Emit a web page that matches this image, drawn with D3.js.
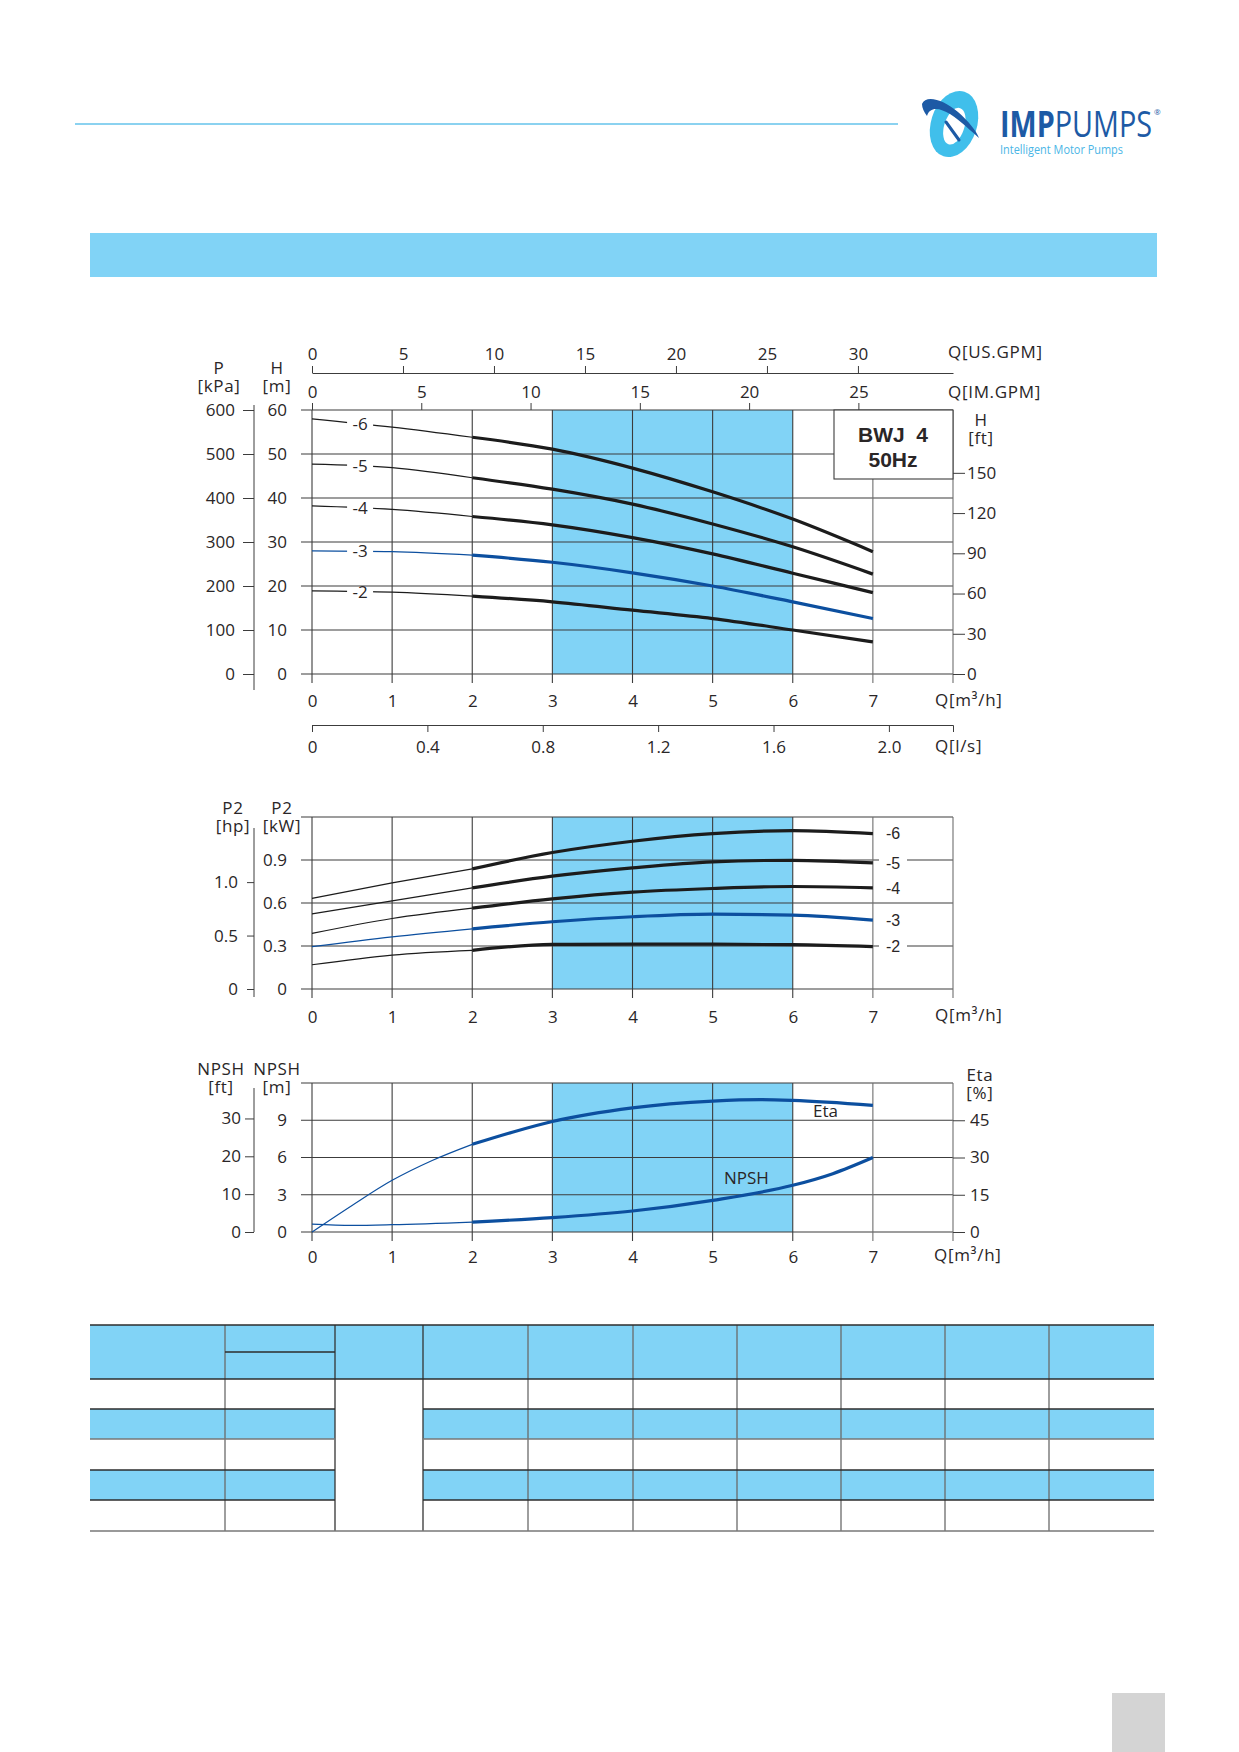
<!DOCTYPE html>
<html>
<head>
<meta charset="utf-8">
<script src="https://cdn.jsdelivr.net/npm/d3@7"></script>
<style>
	body { margin: 0; background: #fff; }
	svg { display: block; font-family: "Open Sans", sans-serif; }
</style>
</head>
<body>
<svg id="page" width="1239" height="1752"></svg>
<script>

// flow points (m3/h) the curves were read at
var flowQ = [0, 1, 2, 3, 4, 5, 6, 7];
var stageNames = ["-6", "-5", "-4", "-3", "-2"];

// head H [m] per stage
var head6 = [58.0, 56.1, 53.8, 51.1, 46.8, 41.4, 35.2, 27.8];
var head5 = [47.7, 46.9, 44.6, 42.0, 38.6, 34.1, 28.9, 22.7];
var head4 = [38.2, 37.4, 35.8, 33.9, 31.0, 27.3, 22.9, 18.5];
var head3 = [28.0, 27.8, 27.0, 25.4, 23.0, 20.0, 16.4, 12.6];
var head2 = [18.9, 18.6, 17.7, 16.4, 14.5, 12.6, 10.0, 7.3];

// shaft power P2 [kW] per stage
var power6 = [0.632, 0.740, 0.838, 0.952, 1.031, 1.084, 1.105, 1.084];
var power5 = [0.524, 0.615, 0.706, 0.787, 0.845, 0.887, 0.898, 0.880];
var power4 = [0.388, 0.492, 0.564, 0.629, 0.676, 0.701, 0.715, 0.706];
var power3 = [0.295, 0.364, 0.420, 0.469, 0.504, 0.522, 0.515, 0.480];
var power2 = [0.169, 0.237, 0.270, 0.311, 0.313, 0.313, 0.309, 0.295];

// NPSH [m] and efficiency [%]
var npshQ = [0, 0.5, 1, 2, 3, 4, 5, 6, 6.5, 7];
var npshM = [0.64, 0.54, 0.59, 0.80, 1.16, 1.69, 2.55, 3.76, 4.70, 6.00];
var etaQ = [0, 0.5, 1, 1.5, 2, 2.5, 3, 4, 5, 5.6, 6, 7];
var etaPct = [0, 10.7, 20.8, 28.8, 35.3, 40.2, 44.5, 50.0, 52.7, 53.3, 53.0, 51.0];

// tick labels
var qTicks = [0, 1, 2, 3, 4, 5, 6, 7];
var usGpmTicks = [0, 5, 10, 15, 20, 25, 30];
var imGpmTicks = [0, 5, 10, 15, 20, 25];
var lsTicks = [0, 0.4, 0.8, 1.2, 1.6, 2.0];
var headTicks = [0, 10, 20, 30, 40, 50, 60];
var kpaTicks = [0, 100, 200, 300, 400, 500, 600];
var ftTicks = [0, 30, 60, 90, 120, 150];
var kwTicks = [0, 0.3, 0.6, 0.9];
var hpTicks = [0, 0.5, 1.0];
var npshTicks = [0, 3, 6, 9];
var npshFtTicks = [0, 10, 20, 30];
var etaTicks = [0, 15, 30, 45];

var headCurves = [head6, head5, head4, head3, head2];
var powerCurves = [power6, power5, power4, power3, power2];

var ink = "#2a2627", gridInk = "#3c3c3c", shade = "#81d3f6",
	black = "#1c1c1c", blue = "#0c4f9f", fontSize = 17;
function stageColor(name) { return name === "-3" ? blue : black; }

var svg = d3.select("#page");
var x = d3.scaleLinear().domain([0, 8]).range([312, 953]);

// ---------- page header ----------
svg.append("line")
	.attr("x1", 75).attr("x2", 898).attr("y1", 124).attr("y2", 124)
	.attr("stroke", "#8bd2f0").attr("stroke-width", 2);
svg.append("rect")
	.attr("x", 90).attr("y", 233).attr("width", 1067).attr("height", 44)
	.attr("fill", shade);

var logo = svg.append("g").attr("transform", "translate(954,124)");
// light ring
logo.append("ellipse").attr("rx", 23).attr("ry", 34)
	.attr("transform", "rotate(18)").attr("fill", "#40bfeb");
logo.append("ellipse").attr("rx", 10).attr("ry", 19).attr("cx", 1).attr("cy", 2)
	.attr("transform", "rotate(18)").attr("fill", "#fff");
// dark orbit crescent on the upper left
logo.append("path")
	.attr("d", "M-32,-20 C-28,-30 -10,-24 4,-12 C14,-3 22,6 25,14 C18,8 8,-2 -4,-10 C-14,-16 -24,-18 -27,-8 C-30,-12 -32,-16 -32,-20 Z")
	.attr("fill", "#1d5aa5");
logo.append("path")
	.attr("d", "M-8,-2 L5,16")
	.attr("stroke", "#1d5aa5").attr("stroke-width", 3).attr("stroke-linecap", "round");
var brand = logo.append("text").attr("x", 46).attr("y", 13)
	.attr("font-size", 36).attr("fill", "#1d5aa5");
brand.append("tspan").attr("font-weight", 700).text("IMP");
brand.append("tspan").text("PUMPS");
brand.attr("textLength", 152).attr("lengthAdjust", "spacingAndGlyphs");
logo.append("text").attr("x", 200).attr("y", -9)
	.attr("font-size", 8).attr("fill", "#1d5aa5").text("®");
logo.append("text").attr("x", 46).attr("y", 30)
	.attr("font-size", 12.5).attr("fill", "#4bb6e6")
	.attr("textLength", 123).attr("lengthAdjust", "spacingAndGlyphs")
	.text("Intelligent Motor Pumps");

// ---------- helpers ----------
function styleAxis(g) {
	g.attr("font-family", null).attr("font-size", fontSize);
	g.selectAll("text").attr("fill", ink);
	g.selectAll("line,path").attr("stroke", gridInk);
}

function panel(top, bottom, y, gridValues) {
	var g = svg.append("g");
	g.append("rect")
		.attr("x", x(3)).attr("y", top)
		.attr("width", x(6) - x(3)).attr("height", bottom - top)
		.attr("fill", shade);
	g.selectAll("line.h").data(gridValues).enter()
		.append("line").attr("class", "h")
		.attr("x1", 301).attr("x2", x(8))
		.attr("y1", d => y(d)).attr("y2", d => y(d))
		.attr("stroke", gridInk).attr("stroke-width", 1.1);
	g.selectAll("line.v").data(d3.range(0, 9)).enter()
		.append("line").attr("class", "v")
		.attr("x1", d => x(d)).attr("x2", d => x(d))
		.attr("y1", top).attr("y2", bottom + 9)
		.attr("stroke", d => d >= 7 ? "#6e6e6e" : gridInk).attr("stroke-width", 1.1);
	return g;
}

function pairs(qs, vs, from, to) {
	return qs.map((q, i) => [q, vs[i]]).filter(p => p[0] >= from && p[0] <= to);
}

function drawCurve(g, y, qs, vs, color) {
	var line = d3.line().x(p => x(p[0])).y(p => y(p[1])).curve(d3.curveMonotoneX);
	g.append("path").attr("d", line(pairs(qs, vs, 0, 2)))
		.attr("fill", "none").attr("stroke", color).attr("stroke-width", 1.2);
	g.append("path").attr("d", line(pairs(qs, vs, 2, 7)))
		.attr("fill", "none").attr("stroke", color).attr("stroke-width", 3.2);
}

function leftLabels(y, ticks, fmt) {
	var g = svg.append("g").attr("transform", "translate(301,0)")
		.call(d3.axisLeft(y).tickValues(ticks).tickSize(0).tickPadding(14).tickFormat(fmt));
	g.select(".domain").remove();
	styleAxis(g);
}

function outerAxis(y, ticks, fmt, y1, y2, size, pad) {
	var g = svg.append("g").attr("transform", "translate(254,0)")
		.call(d3.axisLeft(y).tickValues(ticks).tickSizeInner(size).tickSizeOuter(0)
			.tickPadding(pad).tickFormat(fmt));
	g.select(".domain").remove();
	g.append("line").attr("x1", 0).attr("x2", 0).attr("y1", y1).attr("y2", y2);
	styleAxis(g);
}

function bottomLabels(bottom, pad) {
	var g = svg.append("g").attr("transform", "translate(0," + (bottom + 9) + ")")
		.call(d3.axisBottom(x).tickValues(qTicks).tickSize(0).tickPadding(pad));
	g.select(".domain").remove();
	styleAxis(g);
}

function title(lines, cx, anchor) {
	lines.forEach(function(l) {
		svg.append("text").attr("x", cx).attr("y", l[1])
			.attr("text-anchor", anchor || "middle")
			.attr("letter-spacing", 0.7)
			.attr("font-size", fontSize).attr("fill", ink).text(l[0]);
	});
}

function fmtPlain(d) { return d === 0 ? "0" : d3.format(".1f")(d); }

// ---------- H chart ----------
var hTop = 410, hBottom = 674;
var yH = d3.scaleLinear().domain([0, 60]).range([hBottom, hTop]);
var yKpa = d3.scaleLinear().domain([0, 600]).range([hBottom, hTop]);
var yFt = d3.scaleLinear().domain([0, 60 * 3.28084]).range([hBottom, hTop]);

panel(hTop, hBottom, yH, headTicks);

// gaps in the thin part of each head curve for its stage label
var labelQ = 0.6;
var mask = svg.append("defs").append("mask").attr("id", "stageGap")
	.attr("maskUnits", "userSpaceOnUse")
	.attr("x", 0).attr("y", 0).attr("width", 1239).attr("height", 1752);
mask.append("rect").attr("width", 1239).attr("height", 1752).attr("fill", "#fff");
headCurves.forEach(function(h) {
	var at = d3.scaleLinear().domain(flowQ).range(h)(labelQ);
	mask.append("rect").attr("x", x(labelQ) - 13).attr("y", yH(at) - 8)
		.attr("width", 26).attr("height", 16).attr("fill", "#000");
});

// type box
svg.append("rect").attr("x", 834).attr("y", hTop).attr("width", 119).attr("height", 69)
	.attr("fill", "#fff").attr("stroke", gridInk).attr("stroke-width", 1.1);
svg.append("text").attr("x", 893).attr("y", 441.5).attr("text-anchor", "middle")
	.attr("font-family", "'Liberation Sans', Arial, sans-serif").attr("font-weight", 700)
	.attr("font-size", 21).attr("fill", ink).attr("xml:space", "preserve").text("BWJ  4");
svg.append("text").attr("x", 893).attr("y", 466.5).attr("text-anchor", "middle")
	.attr("font-family", "'Liberation Sans', Arial, sans-serif").attr("font-weight", 700)
	.attr("font-size", 21).attr("fill", ink).text("50Hz");

var hCurves = svg.append("g").attr("mask", "url(#stageGap)");
headCurves.forEach(function(h, i) {
	drawCurve(hCurves, yH, flowQ, h, stageColor(stageNames[i]));
});
headCurves.forEach(function(h, i) {
	var at = d3.scaleLinear().domain(flowQ).range(h)(labelQ);
	svg.append("text").attr("x", x(labelQ)).attr("y", yH(at)).attr("dy", "0.35em")
		.attr("text-anchor", "middle").attr("font-size", fontSize).attr("fill", ink)
		.text(stageNames[i]);
});

leftLabels(yH, headTicks, d3.format("d"));
outerAxis(yKpa, kpaTicks, d3.format("d"), 405, 690, 11, 8);
bottomLabels(hBottom, 12);

var gFt = svg.append("g").attr("transform", "translate(953,0)")
	.call(d3.axisRight(yFt).tickValues(ftTicks).tickSize(12).tickPadding(2));
gFt.select(".domain").remove();
styleAxis(gFt);

// flow in IM.GPM on the plot top
var xIm = d3.scaleLinear().domain([0, 8 * 3.66615]).range([312, 953]);
var gIm = svg.append("g").attr("transform", "translate(0," + hTop + ")")
	.call(d3.axisTop(xIm).tickValues(imGpmTicks).tickSizeInner(7).tickSizeOuter(0).tickPadding(5));
gIm.select(".domain").remove();
styleAxis(gIm);

// flow in US.GPM
var xUs = d3.scaleLinear().domain([0, 8 * 4.40287]).range([312, 953]);
var gUs = svg.append("g").attr("transform", "translate(0,373)")
	.call(d3.axisTop(xUs).tickValues(usGpmTicks).tickSizeInner(7).tickSizeOuter(0).tickPadding(6));
styleAxis(gUs);

// flow in l/s
var xLs = d3.scaleLinear().domain([0, 8 / 3.6]).range([312, 953]);
var gLs = svg.append("g").attr("transform", "translate(0,725)")
	.call(d3.axisBottom(xLs).tickValues(lsTicks).tickSizeInner(7).tickSizeOuter(7)
		.tickPadding(9).tickFormat(fmtPlain));
styleAxis(gLs);

title([["P", 374], ["[kPa]", 392]], 219);
title([["H", 374], ["[m]", 392]], 277);
title([["Q[US.GPM]", 358]], 948, "start");
title([["Q[IM.GPM]", 398]], 948, "start");
title([["H", 426], ["[ft]", 444]], 981);
title([["Q[m³/h]", 706]], 935, "start");
title([["Q[l/s]", 752]], 935, "start");

// ---------- P2 chart ----------
var pTop = 817, pBottom = 989;
var yKw = d3.scaleLinear().domain([0, 1.2]).range([pBottom, pTop]);
var yHp = d3.scaleLinear().domain([0, 1.2 / 0.7457]).range([pBottom, pTop]);

panel(pTop, pBottom, yKw, [0, 0.3, 0.6, 0.9, 1.2]);
var pCurves = svg.append("g");
powerCurves.forEach(function(p, i) {
	drawCurve(pCurves, yKw, flowQ, p, stageColor(stageNames[i]));
});
powerCurves.forEach(function(p, i) {
	var yEnd = yKw(p[p.length - 1]);
	svg.append("rect").attr("x", 879).attr("y", yEnd - 8).attr("width", 28).attr("height", 16)
		.attr("fill", "#fff");
	svg.append("text").attr("x", 886).attr("y", yEnd).attr("dy", "0.36em")
		.attr("font-family", "'Liberation Sans', Arial, sans-serif")
		.attr("font-size", 16).attr("fill", ink).text(stageNames[i]);
});

leftLabels(yKw, kwTicks, fmtPlain);
outerAxis(yHp, hpTicks, fmtPlain, 828, 997, 7, 9);
bottomLabels(pBottom, 13);

title([["P2", 814], ["[hp]", 832]], 233);
title([["P2", 814], ["[kW]", 832]], 282);
title([["Q[m³/h]", 1021]], 935, "start");

// ---------- NPSH / Eta chart ----------
var nTop = 1083, nBottom = 1232;
var yN = d3.scaleLinear().domain([0, 12]).range([nBottom, nTop]);
var yNft = d3.scaleLinear().domain([0, 12 * 3.28084]).range([nBottom, nTop]);
var yEta = d3.scaleLinear().domain([0, 60]).range([nBottom, nTop]);

panel(nTop, nBottom, yN, [0, 3, 6, 9, 12]);
var nCurves = svg.append("g");
drawCurve(nCurves, yN, npshQ, npshM, blue);
drawCurve(nCurves, yEta, etaQ, etaPct, blue);

svg.append("text").attr("x", 813).attr("y", 1111).attr("dy", "0.35em")
	.attr("font-size", fontSize).attr("fill", ink).text("Eta");
svg.append("text").attr("x", 724).attr("y", 1178).attr("dy", "0.35em")
	.attr("font-size", fontSize).attr("fill", ink).text("NPSH");

leftLabels(yN, npshTicks, d3.format("d"));
outerAxis(yNft, npshFtTicks, d3.format("d"), 1088, 1232, 9, 4);
bottomLabels(nBottom, 10);

var gEta = svg.append("g").attr("transform", "translate(953,0)")
	.call(d3.axisRight(yEta).tickValues(etaTicks).tickSize(12).tickPadding(5));
gEta.select(".domain").remove();
styleAxis(gEta);

title([["NPSH", 1075], ["[ft]", 1093]], 221);
title([["NPSH", 1075], ["[m]", 1093]], 277);
title([["Eta", 1081], ["[%]", 1099]], 980);
title([["Q[m³/h]", 1261]], 934, "start");

// ---------- empty spec table ----------
var tableCols = [90, 225, 335, 423, 528, 633, 737, 841, 945, 1049, 1154];
var tableRows = [1325, 1379, 1409, 1439, 1470, 1500, 1531];
var table = svg.append("g");
table.append("rect").attr("x", tableCols[0]).attr("y", tableRows[0])
	.attr("width", tableCols[10] - tableCols[0]).attr("height", tableRows[1] - tableRows[0])
	.attr("fill", shade);
[2, 4].forEach(function(r) {
	[[tableCols[0], tableCols[2]], [tableCols[3], tableCols[10]]].forEach(function(span) {
		table.append("rect").attr("x", span[0]).attr("y", tableRows[r])
			.attr("width", span[1] - span[0]).attr("height", tableRows[r + 1] - tableRows[r])
			.attr("fill", shade);
	});
});
tableCols.slice(1, 10).forEach(function(c) {
	table.append("line").attr("x1", c).attr("x2", c)
		.attr("y1", tableRows[0]).attr("y2", tableRows[6])
		.attr("stroke", c === 335 || c === 423 ? "#333" : "#6a6a6a").attr("stroke-width", 1.3);
});
[0, 1, 6].forEach(function(r) {
	table.append("line").attr("x1", tableCols[0]).attr("x2", tableCols[10])
		.attr("y1", tableRows[r]).attr("y2", tableRows[r])
		.attr("stroke", r === 6 ? "#777" : "#2c2c2c").attr("stroke-width", 1.5);
});
[2, 3, 4, 5].forEach(function(r) {
	[[tableCols[0], tableCols[2]], [tableCols[3], tableCols[10]]].forEach(function(span) {
		table.append("line").attr("x1", span[0]).attr("x2", span[1])
			.attr("y1", tableRows[r]).attr("y2", tableRows[r])
			.attr("stroke", r === 3 ? "#777" : "#2c2c2c").attr("stroke-width", 1.5);
	});
});
table.append("line").attr("x1", tableCols[1]).attr("x2", tableCols[2])
	.attr("y1", 1352).attr("y2", 1352).attr("stroke", "#2c2c2c").attr("stroke-width", 1.5);

// page number tab
svg.append("rect").attr("x", 1112).attr("y", 1693).attr("width", 53).attr("height", 59)
	.attr("fill", "#d4d4d4");

</script>
</body>
</html>
